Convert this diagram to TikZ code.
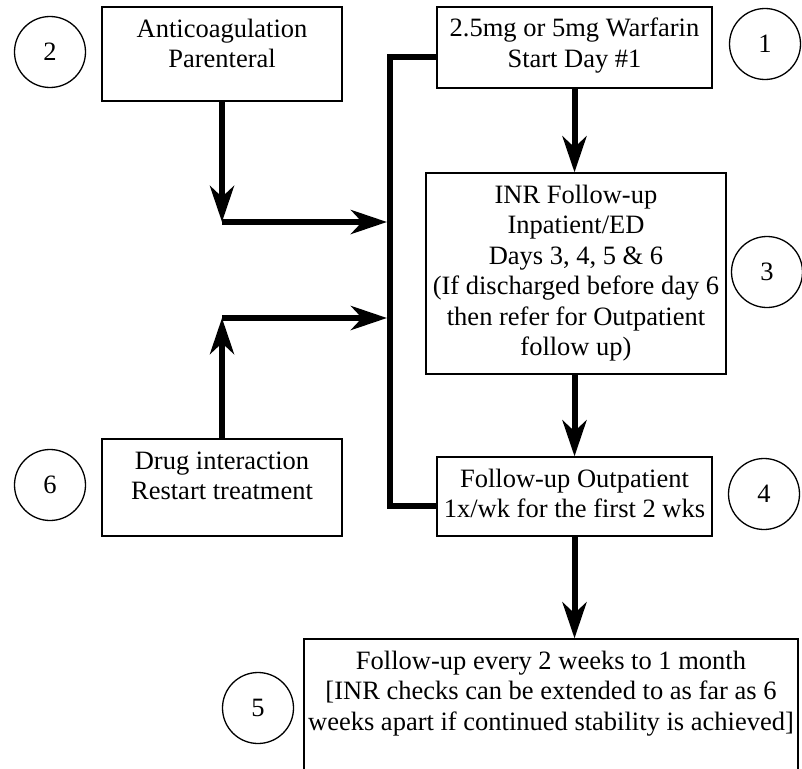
\documentclass[tikz,border=0pt]{standalone}
\usepackage{fontspec}
\setmainfont{Liberation Serif}
\usetikzlibrary{arrows.meta}

% text of a box: fixed size, lines start at the top
\newcommand{\boxlines}[3]{\parbox[c][#1][t]{#2}{\centering\rule{0pt}{30pt}#3}}

\begin{document}
\begin{tikzpicture}[x=1pt, y=-1pt]
	% styles for the boxes, the numbered circles and the thick arrows
	\tikzset{
		stepbox/.style={draw, line width=1.3pt, inner sep=0pt,
			font=\fontsize{26.5}{30.5}\selectfont},
		numcircle/.style={draw, circle, line width=1.3pt, minimum size=71pt,
			inner sep=0pt, font=\fontsize{26.5}{30.5}\selectfont},
		flow/.style={line width=6pt, -{Stealth[length=36pt, width=24pt, inset=11pt]}},
		trunk/.style={line width=6pt}
	}
	
	% page size
	\useasboundingbox (0,0) rectangle (802,768);
	\clip (0,0) rectangle (802,768);
	
	% boxes
	\node[stepbox] (anti) at (222, 54) {\boxlines{94pt}{240pt}{Anticoagulation\\Parenteral}};
	\node[stepbox] (warf) at (574.5, 47.5) {\boxlines{81pt}{275pt}{2.5mg or 5mg Warfarin\\Start Day \#1}};
	\node[stepbox] (inr) at (576, 273.5) {\boxlines{201pt}{300pt}{INR Follow-up\\Inpatient/ED\\Days 3, 4, 5 \& 6\\(If discharged before day 6\\then refer for Outpatient\\follow up)}};
	\node[stepbox] (follow) at (574.5, 496.5) {\boxlines{79pt}{275pt}{Follow-up Outpatient\\1x/wk for the first 2 wks}};
	\node[stepbox] (drug) at (222, 487.5) {\boxlines{97pt}{240pt}{Drug interaction\\Restart treatment}};
	\node[stepbox] (month) at (551, 719) {\boxlines{160pt}{494pt}{Follow-up every 2 weeks to 1 month\\{}[INR checks can be extended to as far as 6\\weeks apart if continued stability is achieved]}};
	
	% numbered circles
	\node[numcircle] (n1) at (765, 44) {1};
	\node[numcircle] (n2) at (50, 52) {2};
	\node[numcircle] (n3) at (767, 272) {3};
	\node[numcircle] (n4) at (764, 494) {4};
	\node[numcircle] (n5) at (258, 708) {5};
	\node[numcircle] (n6) at (50, 485) {6};
	
	% corners of the thick lines
	\coordinate (ttop) at (390, 57);
	\coordinate (tbot) at (390, 506);
	\coordinate (j1) at (222, 222);
	\coordinate (j2) at (222, 318);
	
	% vertical trunk on the left of the right column
	\draw[trunk] (warf.west |- ttop) -- (ttop) -- (tbot) -- (follow.west |- tbot);
	
	% arrows from the left boxes into the trunk
	\draw[flow] (anti.south) -- (j1);
	\draw[flow, shorten >=3pt] (j1) -- (j1 -| ttop);
	\draw[flow] (drug.north) -- (j2);
	\draw[flow, shorten >=3pt] (j2) -- (j2 -| ttop);
	
	% arrows down the right column
	\draw[flow] (warf.south) -- (warf.south |- inr.north);
	\draw[flow] (warf.south |- inr.south) -- (warf.south |- follow.north);
	\draw[flow] (follow.south) -- (follow.south |- month.north);
\end{tikzpicture}
\end{document}
